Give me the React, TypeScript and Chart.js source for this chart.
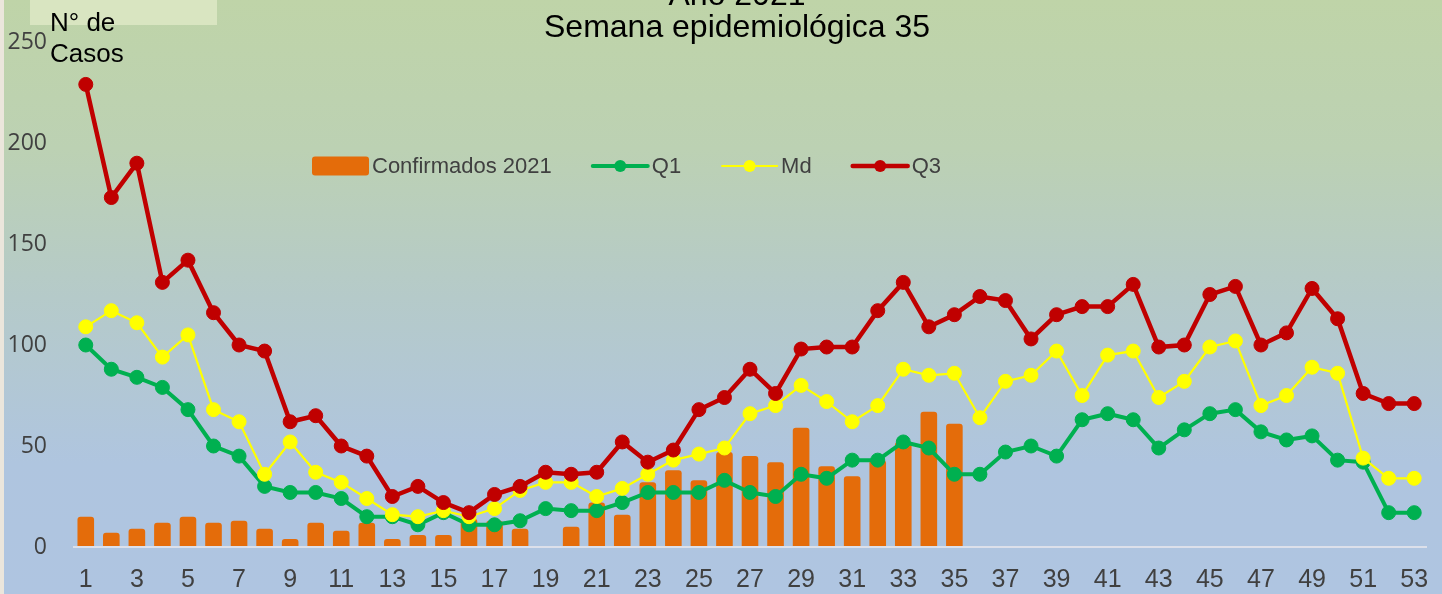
import React, { useEffect, useRef } from 'react';
import { Chart, registerables } from 'chart.js';

Chart.register(...registerables);

const weeks = [
  '1', '2', '3', '4', '5', '6', '7', '8', '9', '10', '11', '12', '13', '14', '15', '16', '17', '18',
  '19', '20', '21', '22', '23', '24', '25', '26', '27', '28', '29', '30', '31', '32', '33', '34', '35',
  '36', '37', '38', '39', '40', '41', '42', '43', '44', '45', '46', '47', '48', '49', '50', '51', '52', '53',
];

const confirmados2021 = [
  15, 7, 9, 12, 15, 12, 13, 9, 4, 12, 8, 12, 4, 6, 6, 14, 13, 9,
  0, 10, 22, 16, 32, 38, 33, 47, 45, 42, 59, 40, 35, 43, 52, 67, 61,
  null, null, null, null, null, null, null, null, null, null, null, null, null, null, null, null, null, null,
];

const q1 = [
  100, 88, 84, 79, 68, 50, 45, 30, 27, 27, 24, 15, 15, 11, 17, 11, 11, 13,
  19, 18, 18, 22, 27, 27, 27, 33, 27, 25, 36, 34, 43, 43, 52, 49, 36,
  36, 47, 50, 45, 63, 66, 63, 49, 58, 66, 68, 57, 53, 55, 43, 42, 17, 17,
];

const md = [
  109, 117, 111, 94, 105, 68, 62, 36, 52, 37, 32, 24, 16, 15, 18, 15, 19, 28,
  32, 32, 25, 29, 36, 43, 46, 49, 66, 70, 80, 72, 62, 70, 88, 85, 86,
  64, 82, 85, 97, 75, 95, 97, 74, 82, 99, 102, 70, 75, 89, 86, 44, 34, 34,
];

const q3 = [
  229, 173, 190, 131, 142, 116, 100, 97, 62, 65, 50, 45, 25, 30, 22, 17, 26, 30,
  37, 36, 37, 52, 42, 48, 68, 74, 88, 76, 98, 99, 99, 117, 131, 109, 115,
  124, 122, 103, 115, 119, 119, 130, 99, 100, 125, 129, 100, 106, 128, 113, 76, 71, 71,
];

const titleLines = ['Año 2021', 'Semana epidemiológica 35'];
const yAxisTitle = ['N° de', 'Casos'];

const bgPlugin = {
  id: 'bgPlugin',
  beforeDraw(chart: any) {
    const { ctx, width, height } = chart;
    ctx.save();
    const g = ctx.createLinearGradient(0, 0, 0, height);
    g.addColorStop(0, '#bfd4a8');
    g.addColorStop(0.25, '#bcd1b3');
    g.addColorStop(0.5, '#b5cac9');
    g.addColorStop(0.78, '#afc5df');
    g.addColorStop(1, '#afc5e1');
    ctx.fillStyle = g;
    ctx.fillRect(0, 0, width, height);
    ctx.fillStyle = '#ebe6dc';
    ctx.fillRect(0, 0, 4, height);
    ctx.fillStyle = '#d9e5c1';
    ctx.fillRect(30, 0, 187, 25);
    ctx.restore();
  },
};

const overlayPlugin = {
  id: 'overlayPlugin',
  afterDraw(chart: any) {
    const { ctx } = chart;
    ctx.save();
    // title
    ctx.fillStyle = '#000000';
    ctx.font = '32px "Liberation Sans", Arial, sans-serif';
    ctx.textAlign = 'center';
    ctx.textBaseline = 'alphabetic';
    ctx.fillText(titleLines[0], 737, 5);
    ctx.fillText(titleLines[1], 737, 37);
    // y axis title
    ctx.font = '26px "Liberation Sans", Arial, sans-serif';
    ctx.textAlign = 'left';
    ctx.fillText(yAxisTitle[0], 50, 31);
    ctx.fillText(yAxisTitle[1], 50, 62);
    // legend
    ctx.font = '22px "Liberation Sans", Arial, sans-serif';
    ctx.textBaseline = 'middle';
    const cy = 166;
    let x = 312;
    const symW = 57;
    chart.data.datasets.forEach((ds: any) => {
      if (ds.type === 'bar') {
        ctx.fillStyle = ds.backgroundColor;
        ctx.beginPath();
        (ctx as any).roundRect(x, cy - 9.5, symW, 19, 3);
        ctx.fill();
      } else {
        ctx.strokeStyle = ds.borderColor;
        ctx.lineWidth = ds.borderWidth;
        ctx.lineCap = 'round';
        ctx.beginPath();
        ctx.moveTo(x + 1, cy);
        ctx.lineTo(x + symW - 1, cy);
        ctx.stroke();
        ctx.fillStyle = ds.pointBackgroundColor;
        ctx.beginPath();
        ctx.arc(x + symW / 2, cy, 6, 0, Math.PI * 2);
        ctx.fill();
      }
      x += symW + 3;
      ctx.fillStyle = '#404040';
      ctx.fillText(ds.label, x, cy + 1);
      x += ctx.measureText(ds.label).width + 40;
    });
    ctx.restore();
  },
};

export default function App() {
  const ref = useRef<HTMLCanvasElement | null>(null);

  useEffect(() => {
    document.body.style.margin = '0';
    document.body.style.overflow = 'hidden';
    if (!ref.current) return;
    const chart = new Chart(ref.current, {
      type: 'bar',
      data: {
        labels: weeks,
        datasets: [
          {
            type: 'bar',
            label: 'Confirmados 2021',
            data: confirmados2021,
            backgroundColor: '#e46c0a',
            borderRadius: 3,
            borderSkipped: 'bottom',
            barPercentage: 0.65,
            categoryPercentage: 1,
            order: 4,
          } as any,
          {
            type: 'line',
            label: 'Q1',
            data: q1,
            borderColor: '#00b050',
            backgroundColor: '#00b050',
            pointBackgroundColor: '#00b050',
            pointBorderColor: '#00b050',
            borderWidth: 4,
            pointRadius: 7,
            pointBorderWidth: 1,
            tension: 0,
            order: 3,
          } as any,
          {
            type: 'line',
            label: 'Md',
            data: md,
            borderColor: '#ffff00',
            backgroundColor: '#ffff00',
            pointBackgroundColor: '#ffff00',
            pointBorderColor: '#ffff00',
            borderWidth: 2.2,
            pointRadius: 7,
            pointBorderWidth: 1,
            tension: 0,
            order: 2,
          } as any,
          {
            type: 'line',
            label: 'Q3',
            data: q3,
            borderColor: '#c00000',
            backgroundColor: '#c00000',
            pointBackgroundColor: '#c00000',
            pointBorderColor: '#c00000',
            borderWidth: 4.5,
            pointRadius: 7,
            pointBorderWidth: 1,
            tension: 0,
            order: 1,
          } as any,
        ],
      },
      options: {
        animation: false,
        responsive: false,
        maintainAspectRatio: false,
        events: [],
        layout: { padding: { left: 8, top: 42, right: 15, bottom: 0 } },
        plugins: {
          legend: { display: false },
          title: { display: false },
          tooltip: { enabled: false },
        },
        scales: {
          x: {
            grid: { display: false },
            border: { display: false },
            ticks: {
              autoSkip: false,
              maxRotation: 0,
              minRotation: 0,
              padding: 10,
              color: '#404040',
              font: { family: '"Liberation Sans", Arial, sans-serif', size: 25 },
              callback: (_v: any, i: number) => (i % 2 === 0 ? weeks[i] : ''),
            },
            afterFit: (s: any) => {
              s.height = 47;
            },
          },
          y: {
            min: 0,
            max: 250,
            z: 1,
            border: { display: false },
            grid: {
              drawTicks: false,
              lineWidth: 2,
              color: (c: any) => (c.tick && c.tick.value === 0 ? 'rgba(222,226,234,0.95)' : 'rgba(0,0,0,0)'),
            },
            ticks: {
              stepSize: 50,
              padding: 26,
              color: '#404040',
              font: { family: '"Open Sans", sans-serif', size: 23 },
            },
            afterFit: (s: any) => {
              s.width = 65;
            },
          },
        },
      } as any,
      plugins: [bgPlugin, overlayPlugin],
    });
    return () => chart.destroy();
  }, []);

  return (
    <div style={{ width: 1442, height: 594, overflow: 'hidden' }}>
      <canvas ref={ref} width={1442} height={594} style={{ display: 'block', width: 1442, height: 594 }} />
    </div>
  );
}
